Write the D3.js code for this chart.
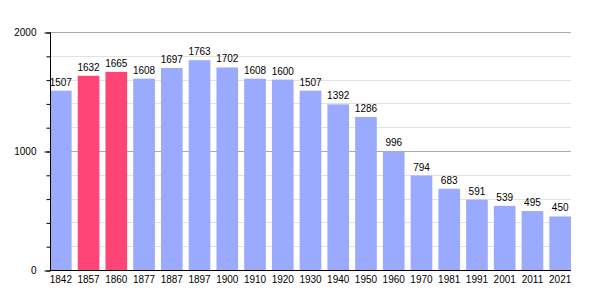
<!DOCTYPE html>
<html>
<head>
<meta charset="utf-8">
<script src="https://cdn.jsdelivr.net/npm/d3@7"></script>
<style>
  body { margin: 0; background: #fff; }
  text { font-family: "Liberation Sans", Arial, sans-serif; font-size: 10px; fill: #000; }
</style>
</head>
<body>
<svg id="grafico"></svg>
<script>
const anos = ['1842', '1857', '1860', '1877', '1887', '1897', '1900', '1910', '1920', '1930',
              '1940', '1950', '1960', '1970', '1981', '1991', '2001', '2011', '2021'];
const populacao = [1507, 1632, 1665, 1608, 1697, 1763, 1702, 1608, 1600, 1507,
                   1392, 1286, 996, 794, 683, 591, 539, 495, 450];
const destacados = ['1857', '1860'];
const ticksMaiores = [0, 1000, 2000];

const largura = 600, altura = 300;
const margem = { esquerda: 50, direita: 29, superior: 32, inferior: 30 };
const fonte = '"Liberation Sans", Arial, sans-serif';

const svg = d3.select('#grafico').attr('width', largura).attr('height', altura);

const x = d3.scaleBand()
    .domain(anos)
    .range([margem.esquerda, largura - margem.direita])
    .paddingInner(0.22)
    .paddingOuter(0);

const y = d3.scaleLinear()
    .domain([0, 2000])
    .range([altura - margem.inferior, margem.superior]);

// linhas de grade, a cada 200
const gradeValores = d3.range(200, 2001, 200);
svg.append('g').selectAll('line')
  .data(gradeValores)
  .join('line')
    .attr('x1', margem.esquerda)
    .attr('x2', largura - margem.direita)
    .attr('y1', d => Math.round(y(d)) + 0.5)
    .attr('y2', d => Math.round(y(d)) + 0.5)
    .attr('stroke', d => d % 1000 === 0 ? '#aaaaaa' : '#e2e2e2')
    .attr('stroke-width', 1);

// barras
svg.append('g').selectAll('rect')
  .data(anos)
  .join('rect')
    .attr('x', d => x(d))
    .attr('width', x.bandwidth())
    .attr('y', (d, i) => y(populacao[i]))
    .attr('height', (d, i) => y(0) - y(populacao[i]))
    .attr('fill', d => destacados.includes(d) ? '#ff4477' : '#99aaff');

// rótulos dos valores
svg.append('g').selectAll('text')
  .data(anos)
  .join('text')
    .attr('x', d => x(d) + x.bandwidth() / 2)
    .attr('y', (d, i) => y(populacao[i]) - 5)
    .attr('text-anchor', 'middle')
    .text((d, i) => populacao[i]);

// eixo Y com ticks menores
const eixoYMenor = d3.axisLeft(y).tickValues(d3.range(0, 2001, 200)).tickSize(4).tickFormat('');
svg.append('g')
    .attr('transform', `translate(${margem.esquerda + 0.5}, 0.5)`)
    .call(eixoYMenor)
    .call(g => g.select('.domain').remove())
    .call(g => g.selectAll('line').attr('stroke', '#000'));

const eixoY = d3.axisLeft(y).tickValues(ticksMaiores).tickSize(6).tickPadding(8).tickFormat(d3.format('d'));
svg.append('g')
    .attr('transform', `translate(${margem.esquerda + 0.5}, 0.5)`)
    .call(eixoY)
    .call(g => g.select('.domain').attr('d', `M0,${y(2000)}V${y(0)}`).attr('stroke', '#000'))
    .call(g => g.selectAll('line').attr('stroke', '#000'))
    .call(g => g.selectAll('text').style('font-size', '10px').style('font-family', fonte));

// eixo X
const eixoX = d3.axisBottom(x).tickSize(0).tickPadding(5);
svg.append('g')
    .attr('transform', `translate(0, ${altura - margem.inferior + 0.5})`)
    .call(eixoX)
    .call(g => g.select('.domain').attr('d', `M${margem.esquerda},0H${largura - margem.direita}`).attr('stroke', '#000'))
    .call(g => g.selectAll('text').style('font-size', '10px').style('font-family', fonte));
</script>
</body>
</html>
